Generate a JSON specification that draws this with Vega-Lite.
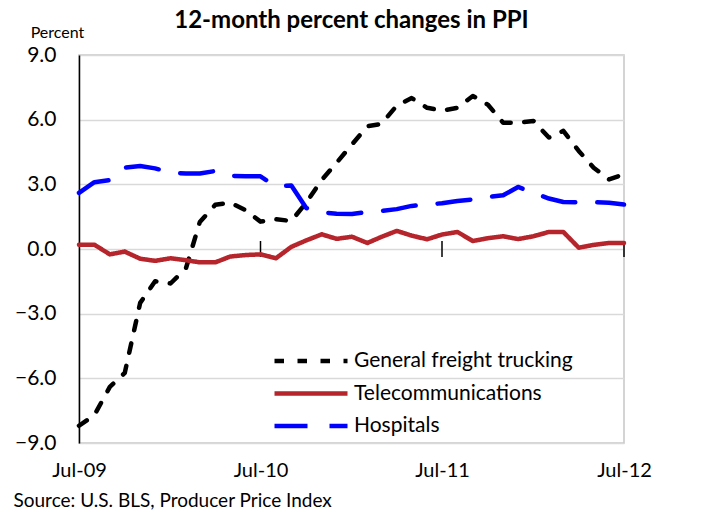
{
  "$schema": "https://vega.github.io/schema/vega-lite/v6.json",
  "width": 545,
  "height": 388,
  "autosize": "none",
  "padding": {"left": 79, "top": 55, "right": 77, "bottom": 73},
  "background": "white",
  "title": {
    "text": "12-month percent changes in PPI",
    "font": "Lato",
    "fontSize": 24,
    "fontWeight": "bold",
    "color": "black",
    "anchor": "middle",
    "frame": "group",
    "offset": 1,
    "dy": 10
  },
  "config": {
    "font": "Lato",
    "view": {"stroke": "#c6c6c6", "strokeWidth": 1.5},
    "axis": {"labelFont": "Lato", "titleFont": "Lato"}
  },
  "datasets": {
    "series": [
      {"date": "2009-07-01", "series": "General freight trucking", "value": -8.2},
      {"date": "2009-08-01", "series": "General freight trucking", "value": -7.7},
      {"date": "2009-09-01", "series": "General freight trucking", "value": -6.4},
      {"date": "2009-10-01", "series": "General freight trucking", "value": -5.75},
      {"date": "2009-11-01", "series": "General freight trucking", "value": -2.5},
      {"date": "2009-12-01", "series": "General freight trucking", "value": -1.5},
      {"date": "2010-01-01", "series": "General freight trucking", "value": -1.6},
      {"date": "2010-02-01", "series": "General freight trucking", "value": -0.9},
      {"date": "2010-03-01", "series": "General freight trucking", "value": 1.25},
      {"date": "2010-04-01", "series": "General freight trucking", "value": 2.05},
      {"date": "2010-05-01", "series": "General freight trucking", "value": 2.15},
      {"date": "2010-06-01", "series": "General freight trucking", "value": 1.8},
      {"date": "2010-07-01", "series": "General freight trucking", "value": 1.27},
      {"date": "2010-08-01", "series": "General freight trucking", "value": 1.38},
      {"date": "2010-09-01", "series": "General freight trucking", "value": 1.3},
      {"date": "2010-10-01", "series": "General freight trucking", "value": 2.15},
      {"date": "2010-11-01", "series": "General freight trucking", "value": 3.2},
      {"date": "2010-12-01", "series": "General freight trucking", "value": 4.0},
      {"date": "2011-01-01", "series": "General freight trucking", "value": 4.85},
      {"date": "2011-02-01", "series": "General freight trucking", "value": 5.7},
      {"date": "2011-03-01", "series": "General freight trucking", "value": 5.8},
      {"date": "2011-04-01", "series": "General freight trucking", "value": 6.65},
      {"date": "2011-05-01", "series": "General freight trucking", "value": 7.0},
      {"date": "2011-06-01", "series": "General freight trucking", "value": 6.55},
      {"date": "2011-07-01", "series": "General freight trucking", "value": 6.42},
      {"date": "2011-08-01", "series": "General freight trucking", "value": 6.55},
      {"date": "2011-09-01", "series": "General freight trucking", "value": 7.1},
      {"date": "2011-10-01", "series": "General freight trucking", "value": 6.7},
      {"date": "2011-11-01", "series": "General freight trucking", "value": 5.86},
      {"date": "2011-12-01", "series": "General freight trucking", "value": 5.86},
      {"date": "2012-01-01", "series": "General freight trucking", "value": 5.94},
      {"date": "2012-02-01", "series": "General freight trucking", "value": 5.17},
      {"date": "2012-03-01", "series": "General freight trucking", "value": 5.48},
      {"date": "2012-04-01", "series": "General freight trucking", "value": 4.55},
      {"date": "2012-05-01", "series": "General freight trucking", "value": 3.77},
      {"date": "2012-06-01", "series": "General freight trucking", "value": 3.23},
      {"date": "2012-07-01", "series": "General freight trucking", "value": 3.47},
      {"date": "2009-07-01", "series": "Telecommunications", "value": 0.2},
      {"date": "2009-08-01", "series": "Telecommunications", "value": 0.2},
      {"date": "2009-09-01", "series": "Telecommunications", "value": -0.25},
      {"date": "2009-10-01", "series": "Telecommunications", "value": -0.12},
      {"date": "2009-11-01", "series": "Telecommunications", "value": -0.45},
      {"date": "2009-12-01", "series": "Telecommunications", "value": -0.55},
      {"date": "2010-01-01", "series": "Telecommunications", "value": -0.43},
      {"date": "2010-02-01", "series": "Telecommunications", "value": -0.52},
      {"date": "2010-03-01", "series": "Telecommunications", "value": -0.62},
      {"date": "2010-04-01", "series": "Telecommunications", "value": -0.62},
      {"date": "2010-05-01", "series": "Telecommunications", "value": -0.35},
      {"date": "2010-06-01", "series": "Telecommunications", "value": -0.28},
      {"date": "2010-07-01", "series": "Telecommunications", "value": -0.25},
      {"date": "2010-08-01", "series": "Telecommunications", "value": -0.43},
      {"date": "2010-09-01", "series": "Telecommunications", "value": 0.1},
      {"date": "2010-10-01", "series": "Telecommunications", "value": 0.4},
      {"date": "2010-11-01", "series": "Telecommunications", "value": 0.68},
      {"date": "2010-12-01", "series": "Telecommunications", "value": 0.47},
      {"date": "2011-01-01", "series": "Telecommunications", "value": 0.57},
      {"date": "2011-02-01", "series": "Telecommunications", "value": 0.28},
      {"date": "2011-03-01", "series": "Telecommunications", "value": 0.56},
      {"date": "2011-04-01", "series": "Telecommunications", "value": 0.84},
      {"date": "2011-05-01", "series": "Telecommunications", "value": 0.62},
      {"date": "2011-06-01", "series": "Telecommunications", "value": 0.45},
      {"date": "2011-07-01", "series": "Telecommunications", "value": 0.67},
      {"date": "2011-08-01", "series": "Telecommunications", "value": 0.79},
      {"date": "2011-09-01", "series": "Telecommunications", "value": 0.37},
      {"date": "2011-10-01", "series": "Telecommunications", "value": 0.5},
      {"date": "2011-11-01", "series": "Telecommunications", "value": 0.59},
      {"date": "2011-12-01", "series": "Telecommunications", "value": 0.46},
      {"date": "2012-01-01", "series": "Telecommunications", "value": 0.59},
      {"date": "2012-02-01", "series": "Telecommunications", "value": 0.79},
      {"date": "2012-03-01", "series": "Telecommunications", "value": 0.79},
      {"date": "2012-04-01", "series": "Telecommunications", "value": 0.06},
      {"date": "2012-05-01", "series": "Telecommunications", "value": 0.19},
      {"date": "2012-06-01", "series": "Telecommunications", "value": 0.28},
      {"date": "2012-07-01", "series": "Telecommunications", "value": 0.28},
      {"date": "2009-07-01", "series": "Hospitals", "value": 2.6},
      {"date": "2009-08-01", "series": "Hospitals", "value": 3.1},
      {"date": "2009-09-01", "series": "Hospitals", "value": 3.2},
      {"date": "2009-10-01", "series": "Hospitals", "value": 3.77},
      {"date": "2009-11-01", "series": "Hospitals", "value": 3.85},
      {"date": "2009-12-01", "series": "Hospitals", "value": 3.74},
      {"date": "2010-01-01", "series": "Hospitals", "value": 3.55},
      {"date": "2010-02-01", "series": "Hospitals", "value": 3.5},
      {"date": "2010-03-01", "series": "Hospitals", "value": 3.5},
      {"date": "2010-04-01", "series": "Hospitals", "value": 3.62},
      {"date": "2010-05-01", "series": "Hospitals", "value": 3.4},
      {"date": "2010-06-01", "series": "Hospitals", "value": 3.37},
      {"date": "2010-07-01", "series": "Hospitals", "value": 3.37},
      {"date": "2010-08-01", "series": "Hospitals", "value": 2.9},
      {"date": "2010-09-01", "series": "Hospitals", "value": 2.95},
      {"date": "2010-10-01", "series": "Hospitals", "value": 1.9},
      {"date": "2010-11-01", "series": "Hospitals", "value": 1.7},
      {"date": "2010-12-01", "series": "Hospitals", "value": 1.64},
      {"date": "2011-01-01", "series": "Hospitals", "value": 1.62},
      {"date": "2011-02-01", "series": "Hospitals", "value": 1.72},
      {"date": "2011-03-01", "series": "Hospitals", "value": 1.77},
      {"date": "2011-04-01", "series": "Hospitals", "value": 1.85},
      {"date": "2011-05-01", "series": "Hospitals", "value": 2.0},
      {"date": "2011-06-01", "series": "Hospitals", "value": 2.07},
      {"date": "2011-07-01", "series": "Hospitals", "value": 2.12},
      {"date": "2011-08-01", "series": "Hospitals", "value": 2.23},
      {"date": "2011-09-01", "series": "Hospitals", "value": 2.3},
      {"date": "2011-10-01", "series": "Hospitals", "value": 2.41},
      {"date": "2011-11-01", "series": "Hospitals", "value": 2.49},
      {"date": "2011-12-01", "series": "Hospitals", "value": 2.88},
      {"date": "2012-01-01", "series": "Hospitals", "value": 2.61},
      {"date": "2012-02-01", "series": "Hospitals", "value": 2.34},
      {"date": "2012-03-01", "series": "Hospitals", "value": 2.18},
      {"date": "2012-04-01", "series": "Hospitals", "value": 2.17},
      {"date": "2012-05-01", "series": "Hospitals", "value": 2.17},
      {"date": "2012-06-01", "series": "Hospitals", "value": 2.15},
      {"date": "2012-07-01", "series": "Hospitals", "value": 2.06}
    ],
    "ticks": [
      {"date": "2010-07-01"},
      {"date": "2011-07-01"},
      {"date": "2012-07-01"}
    ]
  },
  "layer": [
    {
      "data": {"name": "series"},
      "mark": {"type": "line", "strokeWidth": 1, "opacity": 0},
      "encoding": {
        "x": {
          "field": "date",
          "type": "temporal",
          "scale": {"domain": ["2009-07-01", "2012-07-01"]},
          "axis": {
            "values": ["2009-07-01", "2010-07-01", "2011-07-01", "2012-07-01"],
            "format": "%b-%y",
            "grid": false,
            "domain": false,
            "ticks": false,
            "labelFontSize": 20,
            "labelColor": "black",
            "labelPadding": 17,
            "labelFlush": false,
            "labelOverlap": false,
            "title": "Source: U.S. BLS, Producer Price Index",
            "titleFontSize": 19,
            "titleFontWeight": "normal",
            "titleColor": "black",
            "titleAnchor": "start",
            "titleAlign": "left",
            "titleX": -66,
            "titleY": 57,
            "titleBaseline": "middle"
          }
        },
        "y": {
          "field": "value",
          "type": "quantitative",
          "scale": {"domain": [-9, 9], "nice": false, "zero": false},
          "axis": {
            "values": [-9, -6, -3, 0, 3, 6, 9],
            "format": ".1f",
            "grid": true,
            "gridColor": "#d9d9d9",
            "gridWidth": 1.5,
            "domain": true,
            "domainColor": "black",
            "domainWidth": 1.5,
            "ticks": false,
            "labelFontSize": 21,
            "labelColor": "black",
            "labelPadding": 23,
            "title": "Percent",
            "titleFontSize": 16,
            "titleFontWeight": "normal",
            "titleColor": "black",
            "titleAngle": 0,
            "titleAlign": "center",
            "titleBaseline": "middle",
            "titleX": -22,
            "titleY": -23
          }
        }
      }
    },
    {
      "mark": {"type": "rule", "color": "black", "strokeWidth": 1.5},
      "encoding": {"y": {"datum": 0}}
    },
    {
      "data": {"name": "ticks"},
      "mark": {"type": "rule", "color": "black", "strokeWidth": 1.5},
      "encoding": {
        "x": {"field": "date", "type": "temporal"},
        "y": {"datum": -0.37},
        "y2": {"datum": 0.37}
      }
    },
    {
      "data": {"name": "series"},
      "mark": {"type": "line", "strokeWidth": 4.5, "strokeCap": "round", "strokeJoin": "round"},
      "encoding": {
        "x": {"field": "date", "type": "temporal"},
        "y": {"field": "value", "type": "quantitative"},
        "color": {
          "field": "series",
          "type": "nominal",
          "scale": {
            "domain": ["General freight trucking", "Telecommunications", "Hospitals"],
            "range": ["#000000", "#b5252b", "#0000ff"]
          },
          "legend": {
            "title": null,
            "orient": "none",
            "legendX": 193,
            "legendY": 290,
            "symbolType": "stroke",
            "symbolSize": 5329,
            "symbolStrokeWidth": 4.5,
            "labelFontSize": 21,
            "labelColor": "black",
            "labelOffset": 4,
            "labelLimit": 400,
            "rowPadding": 0.5,
            "clipHeight": 32,
            "labelFont": "Lato"
          }
        },
        "strokeDash": {
          "field": "series",
          "type": "nominal",
          "scale": {
            "domain": ["General freight trucking", "Telecommunications", "Hospitals"],
            "range": [[9.5, 13.5], [1, 0], [33, 22]]
          },
          "legend": {
            "title": null,
            "orient": "none",
            "legendX": 193,
            "legendY": 290,
            "symbolType": "stroke",
            "symbolSize": 5329,
            "symbolStrokeWidth": 4.5,
            "labelFontSize": 21,
            "labelColor": "black",
            "labelOffset": 4,
            "labelLimit": 400,
            "rowPadding": 0.5,
            "clipHeight": 32,
            "labelFont": "Lato"
          }
        }
      }
    }
  ]
}
